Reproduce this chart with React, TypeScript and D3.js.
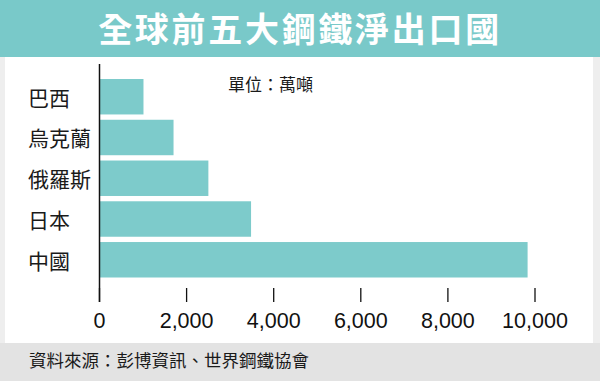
import React from "react";
import * as d3 from "d3";

const categories = ["巴西", "烏克蘭", "俄羅斯", "日本", "中國"];
const values = [1010, 1700, 2500, 3480, 9830];
const tickValues = [0, 2000, 4000, 6000, 8000, 10000];
const title = "全球前五大鋼鐵淨出口國";
const unitLabel = "單位：萬噸";
const sourceLabel = "資料來源：彭博資訊、世界鋼鐵協會";

const W = 600;
const H = 381;
const CJK = "'Noto Sans CJK TC', 'Noto Sans CJK SC', sans-serif";
const LATIN = "'Liberation Sans', Arial, sans-serif";

export default function App() {
  const x = d3.scaleLinear().domain([0, 10000]).range([99.5, 535]);
  const y = d3
    .scaleBand<string>()
    .domain(categories)
    .range([79, 277.5])
    .paddingInner(0.13)
    .paddingOuter(0);
  const fmt = d3.format(",");

  return (
    <svg
      width={W}
      height={H}
      viewBox={`0 0 ${W} ${H}`}
      style={{ position: "absolute", top: 0, left: 0, display: "block" }}
    >
      <rect x={0} y={0} width={W} height={H} fill="#eeeeee" />
      <rect x={5} y={57} width={588} height={286} fill="#ffffff" />
      <rect x={0} y={0} width={W} height={57} fill="#79c9c9" />
      <text
        x={W / 2}
        y={42}
        textAnchor="middle"
        fill="#ffffff"
        fontFamily={CJK}
        fontWeight={700}
        fontSize={34}
        letterSpacing={2.7}
      >
        {title}
      </text>
      <rect x={0} y={343} width={W} height={H - 343} fill="#e3e3e3" />
      <text x={29} y={367} fill="#1a1a1a" fontFamily={CJK} fontSize={17.5}>
        {sourceLabel}
      </text>

      <text x={228} y={91} fill="#1a1a1a" fontFamily={CJK} fontSize={17}>
        {unitLabel}
      </text>

      {categories.map((c, i) => (
        <g key={c}>
          <rect
            x={x(0)}
            y={y(c)}
            width={x(values[i]) - x(0)}
            height={y.bandwidth()}
            fill="#7dcbcb"
          />
          <text
            x={28}
            y={(y(c) as number) + y.bandwidth() / 2}
            dominantBaseline="central"
            fill="#1a1a1a"
            fontFamily={CJK}
            fontSize={21}
          >
            {c}
          </text>
        </g>
      ))}

      <line x1={x(0)} x2={x(0)} y1={64} y2={302} stroke="#111" strokeWidth={1.5} />
      {tickValues.map((t) => (
        <g key={t}>
          <line x1={x(t)} x2={x(t)} y1={288} y2={302} stroke="#111" strokeWidth={1.3} />
          <text
            x={x(t)}
            y={328}
            textAnchor="middle"
            fill="#111"
            fontFamily={LATIN}
            fontSize={21.5}
          >
            {fmt(t)}
          </text>
        </g>
      ))}
    </svg>
  );
}
